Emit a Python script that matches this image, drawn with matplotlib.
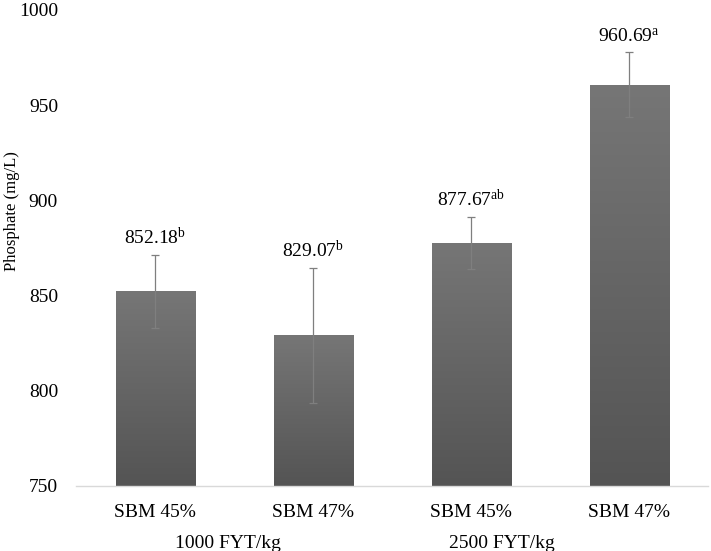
import matplotlib
matplotlib.use("Agg")
import matplotlib.pyplot as plt
import numpy as np

plt.rcParams['font.family'] = ['Liberation Serif', 'DejaVu Serif']
plt.rcParams['mathtext.fontset'] = 'custom'
plt.rcParams['mathtext.rm'] = 'Liberation Serif'
plt.rcParams['mathtext.it'] = 'Liberation Serif'

# data
categories = ['SBM 45%', 'SBM 47%', 'SBM 45%', 'SBM 47%']
groups = ['1000 FYT/kg', '2500 FYT/kg']
means = [852.18, 829.07, 877.67, 960.69]
errors = [19.0, 35.5, 13.5, 17.0]
letters = ['b', 'b', 'ab', 'a']

fig = plt.figure(figsize=(7.11, 5.51), dpi=100)
ax = fig.add_axes([0.107, 0.118, 0.889, 0.864])

x = np.arange(len(means))
bars = ax.bar(x, means, width=0.5, color='#646464', zorder=2)

# vertical gradient inside each bar (lighter on top)
grad = np.linspace(0, 1, 256).reshape(-1, 1)
cmap = matplotlib.colors.LinearSegmentedColormap.from_list('g', ['#545454', '#767676'])
for b in bars:
    x0, y0 = b.get_x(), 750
    im = ax.imshow(grad, extent=[x0, x0 + b.get_width(), y0, b.get_height()],
                   origin='lower', aspect='auto', cmap=cmap, zorder=2.1)
    im.set_clip_path(b)

ax.errorbar(x, means, yerr=errors, fmt='none', ecolor='#7f7f7f',
            elinewidth=0.9, capsize=3, capthick=0.9, zorder=3)

for xi, m, e, l in zip(x, means, errors, letters):
    ax.annotate(f'{m:.2f}$^{{\\mathrm{{{l}}}}}$', (xi, m + e), xytext=(0, 5),
                textcoords='offset points', ha='center', va='bottom', fontsize=14)

ax.set_xlim(-0.5, 3.5)
ax.set_ylim(750, 1000)
ax.set_yticks([750, 800, 850, 900, 950, 1000])
ax.set_xticks(x)
ax.set_xticklabels(categories)
ax.tick_params(axis='both', length=0, labelsize=14)
ax.tick_params(axis='y', pad=13)
ax.tick_params(axis='x', pad=13)
ax.set_ylabel('Phosphate (mg/L)', fontsize=12)
ax.yaxis.set_label_coords(-0.101, 0.578)
ax.yaxis.label.set_va('center')

for s in ['top', 'right', 'left']:
    ax.spines[s].set_visible(False)
ax.spines['bottom'].set_color('#d9d9d9')
ax.spines['bottom'].set_linewidth(1.0)

# group labels under the category labels
fig.text(228 / 711, 1 - 543 / 551, groups[0], ha='center', va='center', fontsize=14)
fig.text(502 / 711, 1 - 543 / 551, groups[1], ha='center', va='center', fontsize=14)

fig.savefig('out.png', dpi=100)
